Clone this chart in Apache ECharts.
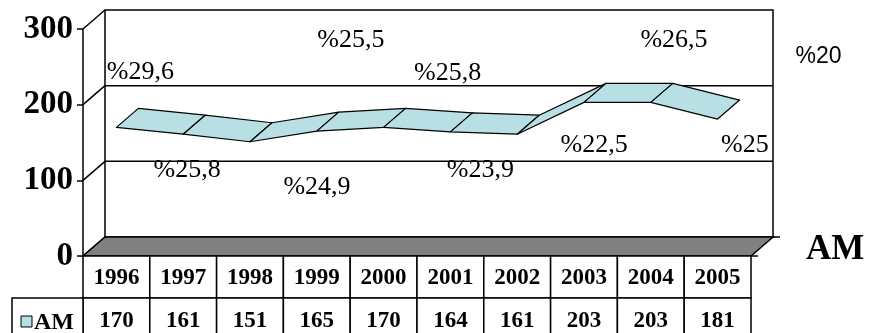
<!DOCTYPE html>
<html><head><meta charset="utf-8">
<script src="https://cdn.jsdelivr.net/npm/echarts@6/dist/echarts.min.js"></script>
<style>html,body{margin:0;padding:0;background:#fff}#c{width:869px;height:333px}</style>
</head><body><div id="c"></div>
<script>
// ---- data ----
const years = ['1996','1997','1998','1999','2000','2001','2002','2003','2004','2005'];
const values = [170, 161, 151, 165, 170, 164, 161, 203, 203, 181];
const seriesName = 'AM';
const pctLabels = ['%29,6','%25,8','%24,9','%25,5','%25,8','%23,9','%22,5','%26,5','%25','%20'];
const yMin = 0, yMax = 300, yStep = 100;
const yTicks = [0, 100, 200, 300];

// ---- layout / style ----
const DX = 22, DY = -19;               // 3D depth offset
const labelOffsets = [[24,-55],[4,36],[67,45],[34,-91],[64,-54],[30,38],[77,11],[90,-62],[94,43],[101,-62]];
const labelFonts = [0,0,0,0,0,0,0,0,0,1];
const SERIF = '"Liberation Serif","Times New Roman",serif';
const SANS = '"Liberation Sans",Arial,sans-serif';
const RIBBON = '#b8e0e4';
const ROW1 = 42, ROW2 = 46;

const chart = echarts.init(document.getElementById('c'), null, {renderer:'canvas'});

function frameItem(params, api){
  const cs = params.coordSys;
  const x0 = cs.x, x1 = cs.x + cs.width;
  const yOf = v => api.coord([0, v])[1];
  const y0 = yOf(yMin), yT = yOf(yMax);
  const ls = {stroke:'#000', lineWidth:1.5};
  const ch = [];
  ch.push({type:'rect', shape:{x:x0+DX, y:yT+DY, width:x1-x0, height:y0-yT}, style:{fill:'#fff', stroke:'#000', lineWidth:1.5}});
  yTicks.forEach(v=>{
    const y = yOf(v);
    if (v !== yMin && v !== yMax) ch.push({type:'line', shape:{x1:x0+DX, y1:y+DY, x2:x1+DX, y2:y+DY}, style:ls});
    ch.push({type:'line', shape:{x1:x0, y1:y, x2:x0+DX, y2:y+DY}, style:ls});
  });
  ch.push({type:'polygon', shape:{points:[[x0,y0],[x1,y0],[x1+DX,y0+DY],[x0+DX,y0+DY]]}, style:{fill:'#808080', stroke:'#000', lineWidth:1.5}});
  ch.push({type:'line', shape:{x1:x1+DX, y1:y0+DY, x2:x1+DX+7, y2:y0+DY}, style:ls});
  ch.push({type:'line', shape:{x1:x1, y1:y0, x2:x1+7, y2:y0}, style:ls});
  return {type:'group', children:ch};
}

function ribbonItem(params, api){
  const i = api.value(0);
  if (i >= values.length - 1) return null;
  const a = api.coord([i, api.value(1)]);
  const b = api.coord([i+1, values[i+1]]);
  return {type:'polygon', shape:{points:[a, b, [b[0]+DX, b[1]+DY], [a[0]+DX, a[1]+DY]]},
    style:{fill:RIBBON, stroke:'#000', lineWidth:1.2, lineJoin:'round'}};
}

function labelItem(params, api){
  const i = params.dataIndex;
  const p = api.coord([api.value(0), api.value(1)]);
  const o = labelOffsets[i];
  const sans = labelFonts[i] === 1;
  return {type:'text', x:p[0]+o[0], y:p[1]+o[1], style:{text:pctLabels[i], fill:'#000',
    font: sans ? ('23px ' + SANS) : ('26px ' + SERIF), align:'center', verticalAlign:'middle'}};
}

function tableItem(params, api){
  const i = api.value(0);
  const c = api.coord([i, yMin]);
  const w = api.size([1, 0])[0];
  const left = c[0] - w/2, top = c[1];
  const cell = {fill:'#fff', stroke:'#000', lineWidth:1.5};
  const ch = [
    {type:'rect', shape:{x:left, y:top, width:w, height:ROW1}, style:cell},
    {type:'rect', shape:{x:left, y:top+ROW1, width:w, height:ROW2}, style:cell},
    {type:'text', x:c[0], y:top+22, style:{text:years[i], font:'bold 23px '+SERIF, fill:'#000', align:'center', verticalAlign:'middle'}},
    {type:'text', x:c[0], y:top+ROW1+23, style:{text:String(values[i]), font:'bold 23px '+SERIF, fill:'#000', align:'center', verticalAlign:'middle'}}
  ];
  if (i === 0) {
    ch.push({type:'rect', shape:{x:12, y:top+ROW1, width:left-12, height:ROW2}, style:cell});
    ch.push({type:'rect', shape:{x:21, y:top+ROW1+18, width:11, height:11}, style:{fill:RIBBON, stroke:'#000', lineWidth:1}});
    ch.push({type:'text', x:54, y:top+ROW1+25, style:{text:seriesName, font:'bold 24px '+SERIF, fill:'#000', align:'center', verticalAlign:'middle'}});
  }
  return {type:'group', children:ch};
}

const pts = values.map((v,i)=>[i, v]);

chart.setOption({
  animation:false,
  grid:{left:83, right:118, top:29, bottom:77},
  xAxis:{type:'category', data:years, boundaryGap:true, show:true,
    axisLine:{show:false}, axisTick:{show:false}, axisLabel:{show:false}, splitLine:{show:false}},
  yAxis:{type:'value', min:yMin, max:yMax, interval:yStep,
    axisLine:{show:true, lineStyle:{color:'#000', width:1.5}},
    axisTick:{show:true, length:6, lineStyle:{color:'#000', width:1.5}},
    splitLine:{show:false},
    axisLabel:{color:'#000', fontFamily:SERIF, fontWeight:'bold', fontSize:33, margin:10}},
  graphic:[{type:'text', left:806, top:232, style:{text:seriesName, font:'bold 35px '+SERIF, fill:'#000'}}],
  series:[
    {type:'custom', name:'frame', data:[[0,0]], renderItem:frameItem, clip:false, z:1, silent:true},
    {type:'custom', name:seriesName, data:pts, renderItem:ribbonItem, clip:false, z:2},
    {type:'custom', name:'pct', data:pts, renderItem:labelItem, clip:false, z:3, silent:true},
    {type:'custom', name:'table', data:pts, renderItem:tableItem, clip:false, z:4, silent:true}
  ]
});
</script></body></html>
